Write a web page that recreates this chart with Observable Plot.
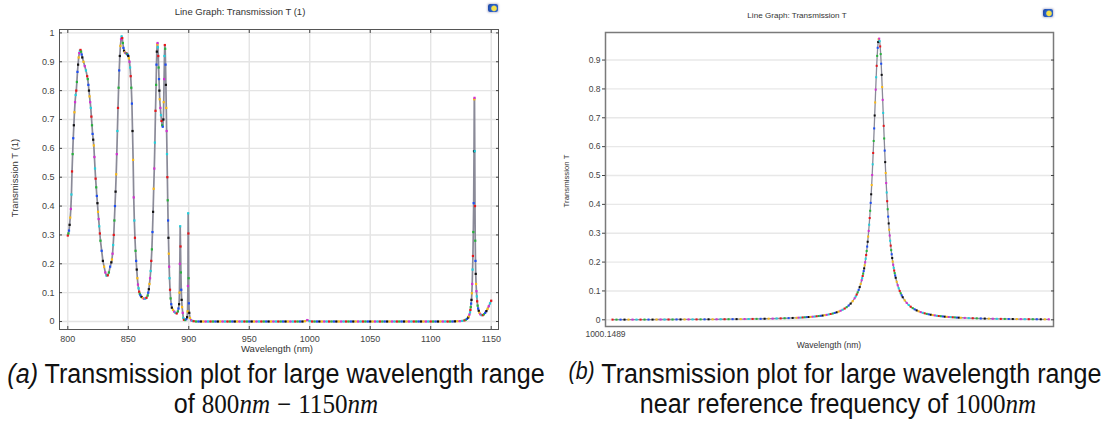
<!DOCTYPE html>
<html><head><meta charset="utf-8">
<script src="https://cdn.jsdelivr.net/npm/d3@7"></script>
<script src="https://cdn.jsdelivr.net/npm/@observablehq/plot@0.6"></script>
<style>
html,body{margin:0;padding:0;background:#fff;}
#root{position:relative;width:1113px;height:437px;overflow:hidden;font-family:"Liberation Sans",Arial,sans-serif;color:#333;}
.abs{position:absolute;white-space:nowrap;line-height:1;}
.c{transform:translate(-50%,-50%);}
.rot{transform:translate(-50%,-50%) rotate(-90deg);}
#pa,#pb{position:absolute;top:0;}
#pa{left:0;} #pb{left:556px;}
.cap{position:absolute;white-space:nowrap;line-height:1;color:#111;font-size:27px;transform:translate(-50%,-50%) scaleX(0.93);}
.m{font-family:"Liberation Serif","DejaVu Serif",serif;}
.mi{font-family:"Liberation Serif","DejaVu Serif",serif;font-style:italic;}
.icon{position:absolute;width:10px;height:8px;border-radius:2px;background:radial-gradient(circle at 60% 55%,#f5e04a 0 30%,#2a62c9 45%,#1c3f96 100%);box-shadow:0 0 2px 1px #ccd;}
</style></head><body><div id="root">
<div id="pa"></div><div id="pb"></div>
<div class="abs c" style="left:240px;top:12px;font-size:9.5px;">Line Graph: Transmission T (1)</div>
<div class="abs rot" style="left:15px;top:178px;font-size:9.5px;">Transmission T (1)</div>
<div class="abs c" style="left:277px;top:349px;font-size:9.5px;">Wavelength (nm)</div>
<div class="abs c" style="left:797px;top:16px;font-size:8.1px;">Line Graph: Transmission T</div>
<div class="abs rot" style="left:567px;top:181px;font-size:7.8px;">Transmission T</div>
<div class="abs c" style="left:829px;top:345px;font-size:8.5px;">Wavelength (nm)</div>
<div class="icon" style="left:488px;top:4px;"></div>
<div class="icon" style="left:1043px;top:9px;"></div>
<div class="cap" style="left:276px;top:374px;"><i>(a)</i> Transmission plot for large wavelength range</div>
<div class="cap" style="left:276px;top:404px;">of <span class="m">800</span><span class="mi">nm</span> <span class="m">−</span> <span class="m">1150</span><span class="mi">nm</span></div>
<div class="cap" style="left:835px;top:374px;"><i style="font-size:23px;position:relative;top:-4px;">(b)</i> Transmission plot for large wavelength range</div>
<div class="cap" style="left:838px;top:404px;">near reference frequency of <span class="m">1000</span><span class="mi">nm</span></div>
</div>
<script>
// ---------- Panel (a): wavelength (nm) and transmission T ----------
const aWl1 = [
 800, 800.5, 801, 801.5, 802, 802.5, 803, 803.5, 804, 804.5,
 805, 805.5, 806, 806.5, 807, 807.5, 808, 808.5, 809, 809.5,
 810, 810.5, 811, 811.5, 812, 813, 814, 815, 816, 816.5,
 817, 817.5, 818, 818.5, 819, 819.5, 820, 820.5, 821, 821.5,
 822, 822.5, 823, 823.5, 824, 824.5, 825, 825.5, 826, 826.5,
 827, 828, 829, 830, 831, 832, 833, 834, 835, 836,
 836.5, 837, 837.5, 838, 838.5, 839, 839.5, 840, 840.5, 841,
 841.5, 842, 842.5, 843, 843.5, 844, 844.5, 845, 845.5, 846,
 846.5, 847, 847.5, 848, 848.5, 849, 849.5, 850, 850.5, 851,
 851.5, 852, 852.5, 853, 853.5, 854, 854.5, 855, 855.5, 856,
 856.5, 857, 857.5, 858, 858.5, 859, 859.5, 860, 861, 862,
 863, 864, 865, 866, 866.5, 867, 867.5, 868, 868.5, 869,
 869.5, 870, 870.5, 871, 871.5, 872, 872.5, 873, 873.3, 873.6,
 873.9, 874.2, 874.5, 874.8, 875.1, 875.4, 875.7, 876, 876.5, 877,
 877.5, 878, 878.5, 879, 879.3, 879.6, 879.9, 880.2, 880.5, 880.8,
 881.1, 881.4, 881.7, 882, 882.3, 882.6, 882.9, 883.2, 883.5, 883.8,
 884.1, 884.5, 885, 885.5, 886, 887, 888, 889, 890, 891,
 891.5, 892, 892.3, 892.6, 892.9, 893.2, 893.5, 893.8, 894.1, 894.5,
 895, 895.5, 896, 897, 898, 898.6, 899, 899.3, 899.5, 899.7,
 899.9, 900.1, 900.4, 901, 902, 903, 904
];
const aT1 = [
 0.298, 0.305, 0.315, 0.335, 0.36, 0.39, 0.44, 0.52, 0.58, 0.635,
 0.68, 0.725, 0.76, 0.785, 0.8, 0.83, 0.865, 0.89, 0.915, 0.93,
 0.938, 0.941, 0.935, 0.925, 0.915, 0.9, 0.885, 0.87, 0.85, 0.84,
 0.82, 0.8, 0.78, 0.76, 0.74, 0.71, 0.68, 0.65, 0.63, 0.61,
 0.57, 0.53, 0.495, 0.465, 0.435, 0.41, 0.38, 0.355, 0.33, 0.305,
 0.28, 0.245, 0.21, 0.19, 0.17, 0.159, 0.16, 0.17, 0.19, 0.205,
 0.215, 0.235, 0.265, 0.3, 0.35, 0.4, 0.45, 0.51, 0.58, 0.66,
 0.74, 0.81, 0.87, 0.92, 0.955, 0.978, 0.988, 0.982, 0.965, 0.948,
 0.938, 0.933, 0.931, 0.93, 0.929, 0.927, 0.924, 0.92, 0.912, 0.9,
 0.88, 0.85, 0.81, 0.755, 0.66, 0.56, 0.43, 0.35, 0.29, 0.245,
 0.21, 0.18, 0.15, 0.128, 0.115, 0.103, 0.096, 0.091, 0.085, 0.081,
 0.079, 0.079, 0.082, 0.09, 0.1, 0.112, 0.13, 0.15, 0.175, 0.21,
 0.25, 0.31, 0.38, 0.46, 0.53, 0.62, 0.73, 0.82, 0.89, 0.935,
 0.96, 0.965, 0.95, 0.92, 0.88, 0.84, 0.8, 0.77, 0.74, 0.715,
 0.695, 0.68, 0.675, 0.7, 0.76, 0.84, 0.92, 0.958, 0.945, 0.89,
 0.82, 0.74, 0.66, 0.58, 0.5, 0.42, 0.35, 0.29, 0.235, 0.19,
 0.15, 0.11, 0.08, 0.06, 0.048, 0.04, 0.034, 0.03, 0.028, 0.035,
 0.045, 0.06, 0.1, 0.2, 0.33, 0.26, 0.17, 0.11, 0.075, 0.05,
 0.03, 0.012, 0.006, 0.005, 0.008, 0.015, 0.035, 0.123, 0.375, 0.305,
 0.15, 0.063, 0.03, 0.012, 0.004, 0.002, 0.001
];
const aWl2 = [
 906, 908, 910, 912, 914, 916, 918, 920, 922, 924,
 926, 928, 930, 932, 934, 936, 938, 940, 942, 944,
 946, 948, 950, 952, 954, 956, 958, 960, 962, 964,
 966, 968, 970, 972, 974, 976, 978, 980, 982, 984,
 986, 988, 990, 992, 994, 996, 998, 1000, 1002, 1004,
 1006, 1008, 1010, 1012, 1014, 1016, 1018, 1020, 1022, 1024,
 1026, 1028, 1030, 1032, 1034, 1036, 1038, 1040, 1042, 1044,
 1046, 1048, 1050, 1052, 1054, 1056, 1058, 1060, 1062, 1064,
 1066, 1068, 1070, 1072, 1074, 1076, 1078, 1080, 1082, 1084,
 1086, 1088, 1090, 1092, 1094, 1096, 1098, 1100, 1102, 1104,
 1106, 1108, 1110, 1112, 1114, 1116, 1118, 1120, 1122, 1124
];
const aT2 = [
 0, 0, 0, 0, 0, 0, 0, 0, 0, 0,
 0, 0, 0, 0, 0, 0, 0, 0, 0, 0,
 0, 0, 0, 0, 0, 0, 0, 0, 0, 0,
 0, 0, 0, 0, 0, 0, 0, 0, 0, 0,
 0, 0, 0, 0, 0, 0.001, 0.005, 0.001, 0, 0,
 0, 0, 0, 0, 0, 0, 0, 0, 0, 0,
 0, 0, 0, 0, 0, 0, 0, 0, 0, 0,
 0, 0, 0, 0, 0, 0, 0, 0, 0, 0,
 0, 0, 0, 0, 0, 0, 0, 0, 0, 0,
 0, 0, 0, 0, 0, 0, 0, 0, 0, 0,
 0, 0, 0, 0, 0, 0, 0, 0.0005, 0.0008, 0.001
];
const aWl3 = [
 1126, 1128, 1129, 1130, 1131, 1131.5, 1132, 1132.5, 1132.8, 1133.1,
 1133.4, 1133.7, 1134, 1134.3, 1134.6, 1134.9, 1135.2, 1135.5, 1135.8, 1136,
 1136.2, 1136.4, 1136.6, 1136.8, 1137, 1137.2, 1137.5, 1137.8, 1138.1, 1138.4,
 1138.8, 1139.2, 1139.7, 1140.3, 1141, 1142, 1143, 1144, 1145, 1146,
 1147, 1148, 1149, 1150
];
const aT3 = [
 0.002, 0.004, 0.006, 0.009, 0.014, 0.018, 0.024, 0.032, 0.04, 0.05,
 0.062, 0.075, 0.098, 0.13, 0.18, 0.227, 0.31, 0.41, 0.59, 0.77,
 0.775, 0.59, 0.4, 0.28, 0.21, 0.165, 0.13, 0.105, 0.087, 0.07,
 0.055, 0.045, 0.037, 0.03, 0.025, 0.022, 0.022, 0.025, 0.03, 0.036,
 0.044, 0.053, 0.063, 0.072
];
const aXTicks = [800, 850, 900, 950, 1000, 1050, 1100, 1150];
const aYTicks = [0, 0.1, 0.2, 0.3, 0.4, 0.5, 0.6, 0.7, 0.8, 0.9, 1];

// ---------- Panel (b): wavelength (nm) and transmission T ----------
const bWl = [
 1000.1503, 1000.1511, 1000.1519, 1000.1527, 1000.1535, 1000.1543, 1000.1551, 1000.1559, 1000.1567, 1000.1575,
 1000.1583, 1000.1591, 1000.1599, 1000.1607, 1000.1615, 1000.1623, 1000.1631, 1000.1639, 1000.1647, 1000.1655,
 1000.1663, 1000.1671, 1000.1679, 1000.1687, 1000.1695, 1000.1703, 1000.1711, 1000.1719, 1000.1727, 1000.1735,
 1000.1743, 1000.1751, 1000.1759, 1000.1767, 1000.1775, 1000.1783, 1000.1791, 1000.1799, 1000.1807, 1000.1815,
 1000.1823, 1000.1831, 1000.1839, 1000.1847, 1000.1855, 1000.1863, 1000.1871,
 1000.1875, 1000.1879, 1000.1883, 1000.1887, 1000.1891, 1000.1895, 1000.1899, 1000.1903, 1000.1907, 1000.1911,
 1000.1915, 1000.1919, 1000.1923, 1000.1927, 1000.1931, 1000.1935, 1000.1939, 1000.1943, 1000.1947, 1000.1951,
 1000.1955, 1000.1959, 1000.1963, 1000.1967, 1000.1971, 1000.1975, 1000.1979, 1000.1983, 1000.1987,
 1000.1989, 1000.1991, 1000.1993, 1000.1995, 1000.1997, 1000.1999, 1000.2001,
 1000.2002, 1000.2003, 1000.2004, 1000.2005, 1000.2006, 1000.2007, 1000.2008, 1000.2009, 1000.2010, 1000.2011,
 1000.2012, 1000.2013, 1000.2014, 1000.2015, 1000.2016, 1000.2017, 1000.2018, 1000.2019, 1000.2020, 1000.2021,
 1000.2022, 1000.2023, 1000.2024, 1000.2025, 1000.2026, 1000.2027, 1000.2028, 1000.2029, 1000.2030, 1000.2031,
 1000.2032, 1000.2033, 1000.2034, 1000.2035, 1000.2036, 1000.2037, 1000.2038, 1000.2039, 1000.2040, 1000.2041,
 1000.2042, 1000.2043, 1000.2044, 1000.2045, 1000.2046, 1000.2047, 1000.2048, 1000.2049, 1000.2050, 1000.2051,
 1000.2052, 1000.2053, 1000.2054, 1000.2055, 1000.2056, 1000.2057, 1000.2058, 1000.2059, 1000.2060, 1000.2061,
 1000.2062, 1000.2063, 1000.2064, 1000.2065, 1000.2066, 1000.2067, 1000.2068, 1000.2069,
 1000.2071, 1000.2073, 1000.2075, 1000.2077, 1000.2079, 1000.2081, 1000.2083,
 1000.2087, 1000.2091, 1000.2095, 1000.2099, 1000.2103, 1000.2107, 1000.2111, 1000.2115, 1000.2119, 1000.2123,
 1000.2127, 1000.2131, 1000.2135, 1000.2139, 1000.2143, 1000.2147, 1000.2151, 1000.2155, 1000.2159, 1000.2163,
 1000.2167, 1000.2171, 1000.2175, 1000.2179, 1000.2183, 1000.2187, 1000.2191, 1000.2195, 1000.2199,
 1000.2207, 1000.2215, 1000.2223, 1000.2231, 1000.2239, 1000.2247, 1000.2255, 1000.2263, 1000.2271, 1000.2279,
 1000.2287, 1000.2295, 1000.2303, 1000.2311, 1000.2319, 1000.2327, 1000.2335, 1000.2343, 1000.2351, 1000.2359,
 1000.2367, 1000.2375
];
const bT = [
 0.0007, 0.0007, 0.0007, 0.0007, 0.0008, 0.0008, 0.0008, 0.0008, 0.0009, 0.0009,
 0.0009, 0.001, 0.001, 0.001, 0.0011, 0.0011, 0.0012, 0.0012, 0.0013, 0.0013,
 0.0014, 0.0014, 0.0015, 0.0016, 0.0017, 0.0017, 0.0018, 0.0019, 0.002, 0.0021,
 0.0022, 0.0024, 0.0025, 0.0027, 0.0028, 0.003, 0.0032, 0.0034, 0.0037, 0.0039,
 0.0042, 0.0046, 0.0049, 0.0054, 0.0059, 0.0064, 0.007,
 0.0074, 0.0077, 0.0081, 0.0086, 0.0091, 0.0096, 0.0101, 0.0108, 0.0114, 0.0122,
 0.013, 0.0139, 0.0148, 0.0159, 0.0172, 0.0185, 0.0201, 0.0218, 0.0238, 0.026,
 0.0286, 0.0315, 0.035, 0.039, 0.0438, 0.0494, 0.0562, 0.0645, 0.0747,
 0.0807, 0.0875, 0.095, 0.1036, 0.1133, 0.1244, 0.1372,
 0.1442, 0.1518, 0.16, 0.1688, 0.1782, 0.1885, 0.1995, 0.2115, 0.2245, 0.2385,
 0.2538, 0.2704, 0.2884, 0.308, 0.3294, 0.3526, 0.3778, 0.4052, 0.4349, 0.467,
 0.5016, 0.5387, 0.5781, 0.6197, 0.6632, 0.7079, 0.7531, 0.7977, 0.8405, 0.88,
 0.9145, 0.9425, 0.9624, 0.9732, 0.9742, 0.9653, 0.9472, 0.9207, 0.8873, 0.8487,
 0.8065, 0.7621, 0.7169, 0.672, 0.6283, 0.5863, 0.5464, 0.5088, 0.4738, 0.4412,
 0.411, 0.3831, 0.3575, 0.3339, 0.3122, 0.2922, 0.2739, 0.257, 0.2415, 0.2272,
 0.214, 0.2018, 0.1906, 0.1802, 0.1706, 0.1617, 0.1534, 0.1457,
 0.1319, 0.1198, 0.1093, 0.1001, 0.0919, 0.0847, 0.0782,
 0.0673, 0.0585, 0.0513, 0.0453, 0.0403, 0.0361, 0.0325, 0.0294, 0.0267, 0.0244,
 0.0224, 0.0206, 0.019, 0.0176, 0.0163, 0.0152, 0.0141, 0.0132, 0.0124, 0.0116,
 0.0109, 0.0103, 0.0097, 0.0092, 0.0087, 0.0083, 0.0078, 0.0075, 0.0071,
 0.0065, 0.0059, 0.0054, 0.005, 0.0046, 0.0043, 0.004, 0.0037, 0.0034, 0.0032,
 0.003, 0.0028, 0.0027, 0.0025, 0.0024, 0.0022, 0.0021, 0.002, 0.0019, 0.0018,
 0.0017, 0.0017
];
const bXTicks = [1000.1489];
const bYTicks = [0, 0.1, 0.2, 0.3, 0.4, 0.5, 0.6, 0.7, 0.8, 0.9];

// marker colour cycle (style)
const dotColors = ["#e8161b", "#26b33b", "#1d4ef5", "#111111", "#fdbb12", "#d52fd2", "#1fd1de"];

function pairUp(wls, ts) {
  const n = Math.min(wls.length, ts.length);
  if (wls.length !== ts.length) console.warn("length mismatch", wls.length, ts.length);
  const out = [];
  for (let i = 0; i < n; i++) out.push({wl: wls[i], t: ts[i]});
  return out;
}
const aData = [...pairUp(aWl1, aT1), ...pairUp(aWl2, aT2), ...pairUp(aWl3, aT3)];
const bData = pairUp(bWl, bT);

const fmt = d => String(d);

const plotA = Plot.plot({
  width: 556, height: 360,
  marginTop: 29, marginLeft: 59, marginRight: 58, marginBottom: 31,
  x: {domain: [793.14, 1156.03]},
  y: {domain: [-0.0277, 1.0118]},
  color: {type: "identity"},
  style: {fontFamily: "'Liberation Sans', Arial, sans-serif", fontSize: "9px", color: "#333", background: "transparent"},
  marks: [
    Plot.gridX(aXTicks, {stroke: "#e4e4e4", strokeOpacity: 1, strokeWidth: 1.4}),
    Plot.gridY(aYTicks, {stroke: "#e4e4e4", strokeOpacity: 1, strokeWidth: 1.4}),
    Plot.line(aData, {x: "wl", y: "t", stroke: "#8a8a98", strokeWidth: 1.7}),
    Plot.dot(aData, {x: "wl", y: "t", fill: (d, i) => dotColors[i % 7], symbol: "square", r: 1.25}),
    Plot.frame({stroke: "#555", strokeWidth: 1}),
    Plot.axisX(aXTicks, {anchor: "bottom", tickSize: -3, tickPadding: 9, tickFormat: fmt, label: null, color: "#444"}),
    Plot.axisX(aXTicks, {anchor: "top", tickSize: -3, tickFormat: () => "", label: null, color: "#444"}),
    Plot.axisY(aYTicks, {anchor: "left", tickSize: -3, tickPadding: 8, tickFormat: fmt, label: null, color: "#444"}),
    Plot.axisY(aYTicks, {anchor: "right", tickSize: -3, tickFormat: () => "", label: null, color: "#444"})
  ]
});
document.getElementById("pa").append(plotA);

const plotB = Plot.plot({
  width: 557, height: 345,
  marginTop: 32, marginLeft: 49, marginRight: 60, marginBottom: 19,
  x: {domain: [1000.1489, 1000.23844]},
  y: {domain: [-0.0232, 0.9955]},
  color: {type: "identity"},
  style: {fontFamily: "'Liberation Sans', Arial, sans-serif", fontSize: "8.5px", color: "#333", background: "transparent"},
  marks: [
    Plot.gridY(bYTicks, {stroke: "#e8e8e8", strokeOpacity: 1, strokeWidth: 1.4}),
    Plot.line(bData, {x: "wl", y: "t", stroke: "#8a8a98", strokeWidth: 1.3}),
    Plot.dot(bData, {x: "wl", y: "t", fill: (d, i) => dotColors[i % 7], symbol: "square", r: 1.15}),
    Plot.frame({stroke: "#7a7a7a", strokeWidth: 1.5}),
    Plot.axisX(bXTicks, {anchor: "bottom", tickSize: 0, tickPadding: 4, tickFormat: d => d.toFixed(4), label: null, color: "#444"}),
    Plot.axisY(bYTicks, {anchor: "left", tickSize: 3, tickPadding: 2, tickFormat: fmt, label: null, color: "#444"}),
    Plot.axisY(bYTicks, {anchor: "right", tickSize: -3, tickFormat: () => "", label: null, color: "#444"})
  ]
});
document.getElementById("pb").append(plotB);
</script>
</body></html>
